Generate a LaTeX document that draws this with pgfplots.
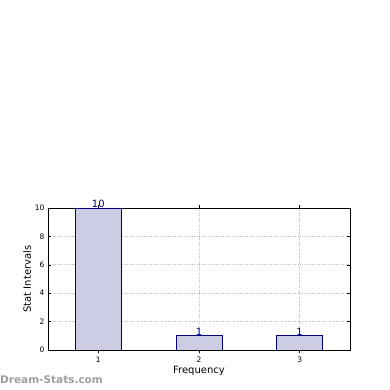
\documentclass[border=0pt]{standalone}
\usepackage{pgfplots}
\pgfplotsset{compat=1.18}
\usepackage{fontspec}
\setmainfont{DejaVu Sans}
\definecolor{barfill}{HTML}{CCCCE5}
\definecolor{baredge}{HTML}{000080}
\begin{document}
\begin{tikzpicture}[x=1pt,y=1pt]
\fill[white] (0,0) rectangle (390,390);
\begin{axis}[
  at={(48pt,40pt)}, anchor=south west,
  scale only axis, width=302pt, height=142pt,
  xmin=0.5, xmax=3.5, ymin=0, ymax=10,
  xtick={1,2,3}, ytick={0,2,4,6,8,10},
  tick align=inside, major tick length=3pt,
  tick style={black, line width=0.5pt},
  xtick pos=both, ytick pos=both,
  xticklabel pos=lower, yticklabel pos=left,
  ticklabel style={font=\fontsize{7.5}{8}\selectfont},
  /pgf/number format/assume math mode=true,
  grid=major, grid style={gray!55, dotted, line width=0.7pt},
  axis line style={black, line width=0.6pt},
  xlabel={Frequency}, ylabel={Stat Intervals},
  label style={font=\fontsize{10}{12}\selectfont},
  xlabel style={yshift=3pt},
  ylabel style={yshift=-3pt},
  ybar, bar width=0.455,
  nodes near coords,
  nodes near coords style={font=\fontsize{10}{12}\selectfont, text=baredge, anchor=center, yshift=4pt},
]
\addplot[fill=barfill, draw=baredge, line width=0.6pt] coordinates {(1,10) (2,1) (3,1)};
\end{axis}
\node[anchor=west, text=gray!75, inner sep=0pt, font=\bfseries\fontsize{10.5}{12}\selectfont] at (0,10) {Dream-Stats.com};
\end{tikzpicture}
\end{document}
